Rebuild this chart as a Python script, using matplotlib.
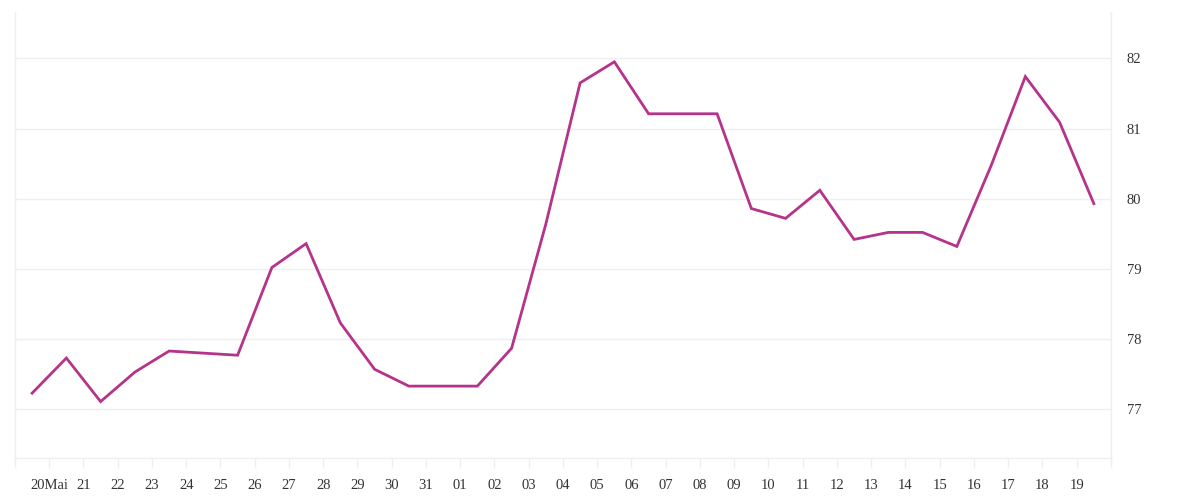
import matplotlib
matplotlib.use("Agg")
import matplotlib.pyplot as plt

# values, one per half-day slot
values = [77.23, 77.73, 77.11, 77.53, 77.83, 77.80, 77.77, 79.02,
          79.36, 78.23, 77.57, 77.33, 77.33, 77.33, 77.87, 79.64,
          81.65, 81.95, 81.21, 81.21, 81.21, 79.86, 79.72, 80.12,
          79.42, 79.52, 79.52, 79.32, 80.47, 81.74, 81.09, 79.93]
day_labels = ['', '20Mai', '21', '22', '23', '24', '25', '26', '27', '28', '29', '30',
              '31', '01', '02', '03', '04', '05', '06', '07', '08', '09', '10',
              '11', '12', '13', '14', '15', '16', '17', '18', '19']
y_ticks = [77, 78, 79, 80, 81, 82]

grid_col = '#efefef'
line_col = '#b5338a'
text_col = '#333333'

plt.rcParams['font.family'] = ['Liberation Serif', 'DejaVu Serif']

fig = plt.figure(figsize=(12, 5), dpi=100)
ax = fig.add_axes([0.0125, 0.084, 0.9133, 0.892])

xs = [i + 0.5 for i in range(len(values))]
ax.plot(xs, values, color=line_col, linewidth=2, solid_joinstyle='miter', zorder=3)

ax.set_xlim(0, 32)
ax.set_ylim(76.306, 82.66)

ax.set_xticks(range(len(day_labels)))
ax.set_xticklabels(day_labels)
ax.set_xticks(range(33), minor=True)
ax.set_yticks(y_ticks)

ax.grid(True, which='minor', axis='x', color=grid_col, linewidth=1)
ax.grid(True, which='major', axis='y', color=grid_col, linewidth=1)
ax.set_axisbelow(True)

ax.yaxis.tick_right()
ax.tick_params(axis='y', length=0, pad=11.5, labelsize=10.5, labelcolor=text_col)
ax.tick_params(axis='x', which='both', direction='out', length=7.2, width=1,
               color=grid_col, pad=8, labelsize=10.5, labelcolor=text_col)

ax.spines['top'].set_visible(False)
for side in ['bottom', 'right', 'left']:
    ax.spines[side].set_color(grid_col)
    ax.spines[side].set_linewidth(1)

fig.savefig('out.png', dpi=100, facecolor='white')
